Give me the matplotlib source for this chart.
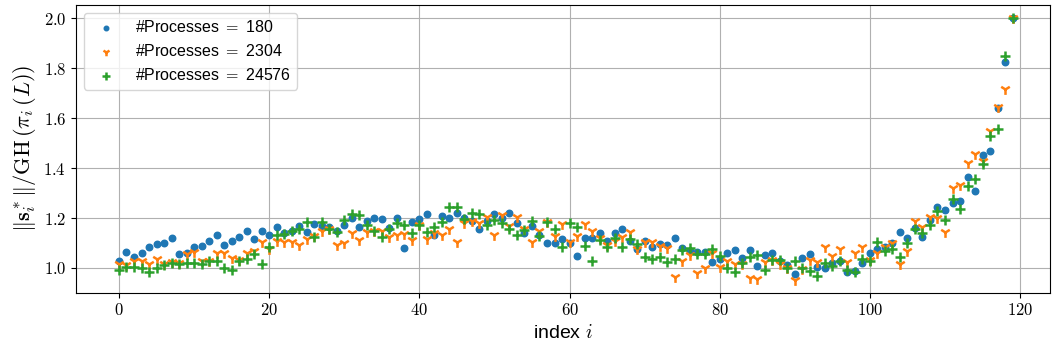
import matplotlib
matplotlib.use("Agg")
import matplotlib.pyplot as plt
from matplotlib.ticker import FuncFormatter

plt.rcParams["mathtext.fontset"] = "cm"
plt.rcParams["font.family"] = ["Liberation Sans", "DejaVu Sans"]

labels = ["#Processes $=$ 180", "#Processes $=$ 2304", "#Processes $=$ 24576"]

p180 = [1.030, 1.065, 1.046, 1.062, 1.084, 1.097, 1.100, 1.121, 1.057, 1.060,
        1.084, 1.089, 1.108, 1.132, 1.094, 1.108, 1.124, 1.148, 1.118, 1.150,
        1.134, 1.164, 1.140, 1.150, 1.169, 1.145, 1.177, 1.170, 1.164, 1.150,
        1.172, 1.200, 1.166, 1.190, 1.200, 1.196, 1.161, 1.200, 1.081, 1.185,
        1.198, 1.217, 1.132, 1.209, 1.200, 1.220, 1.200, 1.188, 1.156, 1.190,
        1.217, 1.200, 1.222, 1.182, 1.140, 1.170, 1.132, 1.102, 1.100, 1.116,
        1.102, 1.049, 1.120, 1.120, 1.140, 1.110, 1.142, 1.156, 1.110, 1.076,
        1.110, 1.086, 1.097, 1.094, 1.120, 1.081, 1.070, 1.065, 1.065, 1.025,
        1.038, 1.060, 1.073, 1.040, 1.073, 1.009, 1.054, 1.060, 1.030, 1.012,
        0.975, 1.041, 1.057, 1.004, 0.999, 1.020, 1.030, 0.985, 0.988, 1.022,
        1.060, 1.078, 1.086, 1.100, 1.145, 1.121, 1.160, 1.124, 1.193, 1.244,
        1.233, 1.260, 1.268, 1.364, 1.310, 1.452, 1.469, 1.640, 1.825, 2.000]

p2304 = [1.017, 1.013, 1.030, 1.028, 1.017, 1.037, 1.017, 1.025, 1.020, 1.056,
         1.064, 1.030, 1.030, 1.062, 1.062, 1.040, 1.033, 1.060, 1.068, 1.105,
         1.076, 1.110, 1.105, 1.105, 1.092, 1.116, 1.130, 1.148, 1.155, 1.092,
         1.100, 1.140, 1.113, 1.143, 1.150, 1.150, 1.124, 1.134, 1.135, 1.113,
         1.174, 1.118, 1.142, 1.132, 1.156, 1.105, 1.180, 1.190, 1.180, 1.206,
         1.134, 1.214, 1.170, 1.206, 1.156, 1.105, 1.150, 1.185, 1.130, 1.177,
         1.105, 1.130, 1.177, 1.148, 1.120, 1.092, 1.110, 1.126, 1.145, 1.076,
         1.105, 1.105, 1.090, 1.080, 0.964, 1.028, 1.054, 0.980, 1.000, 1.060,
         1.004, 1.028, 1.017, 1.015, 0.961, 0.956, 1.025, 1.033, 1.017, 1.000,
         0.953, 0.996, 1.033, 1.025, 1.084, 1.049, 1.076, 1.025, 1.062, 1.084,
         1.033, 1.060, 1.084, 1.100, 1.017, 1.068, 1.188, 1.166, 1.206, 1.200,
         1.145, 1.321, 1.332, 1.420, 1.457, 1.430, 1.550, 1.644, 1.716, 2.000]

p24576 = [0.993, 1.004, 1.004, 0.999, 0.985, 1.000, 1.012, 1.020, 1.015, 1.022,
          1.020, 1.015, 1.030, 1.030, 0.998, 0.990, 1.030, 1.038, 1.055, 1.015,
          1.084, 1.132, 1.135, 1.148, 1.158, 1.185, 1.126, 1.185, 1.158, 1.145,
          1.193, 1.217, 1.212, 1.174, 1.150, 1.126, 1.158, 1.182, 1.174, 1.142,
          1.174, 1.145, 1.166, 1.185, 1.246, 1.244, 1.198, 1.222, 1.217, 1.174,
          1.193, 1.182, 1.156, 1.134, 1.153, 1.188, 1.129, 1.185, 1.158, 1.084,
          1.180, 1.166, 1.089, 1.030, 1.113, 1.086, 1.120, 1.086, 1.118, 1.097,
          1.046, 1.038, 1.046, 1.025, 1.038, 1.073, 1.080, 1.057, 1.057, 1.078,
          1.050, 0.999, 0.983, 1.022, 1.046, 1.054, 0.990, 1.033, 1.033, 0.999,
          1.028, 0.999, 0.988, 0.969, 1.020, 1.009, 1.030, 0.993, 0.985, 1.036,
          1.030, 1.105, 1.068, 1.076, 1.046, 1.100, 1.158, 1.142, 1.174, 1.228,
          1.193, 1.278, 1.236, 1.330, 1.356, 1.417, 1.529, 1.558, 1.849, 2.000]

idx = list(range(len(p180)))

fig = plt.figure(figsize=(10.52, 3.51), dpi=100)
ax = fig.add_axes([0.0722, 0.166, 0.9258, 0.820])

ax.scatter(idx, p180, s=22, marker="o", color="C0", label=labels[0], zorder=3)
ax.scatter(idx, p2304, s=60, marker="1", color="C1", linewidths=1.8, label=labels[1], zorder=3)
ax.scatter(idx, p24576, s=55, marker="+", color="C2", linewidths=1.8, label=labels[2], zorder=3)

ax.set_xlim(-5.73, 123.97)
ax.set_ylim(0.901, 2.053)
ax.set_xticks([0, 20, 40, 60, 80, 100, 120])
ax.set_yticks([1.0, 1.2, 1.4, 1.6, 1.8, 2.0])
ax.xaxis.set_major_formatter(FuncFormatter(lambda v, p: "$%d$" % v))
ax.yaxis.set_major_formatter(FuncFormatter(lambda v, p: "$%.1f$" % v))
ax.tick_params(labelsize=12)
ax.grid(True, color="#b0b0b0", linewidth=0.8)
ax.set_axisbelow(True)

ax.set_xlabel("index $i$", fontsize=14)
ax.set_ylabel(r"$\Vert\mathbf{s}_i^*\Vert/\mathrm{GH}\,(\pi_i\,(L))$", fontsize=16)

ax.legend(loc="upper left", fontsize=11.5, scatterpoints=1, markerscale=0.7)

fig.savefig("out.png", dpi=100)
